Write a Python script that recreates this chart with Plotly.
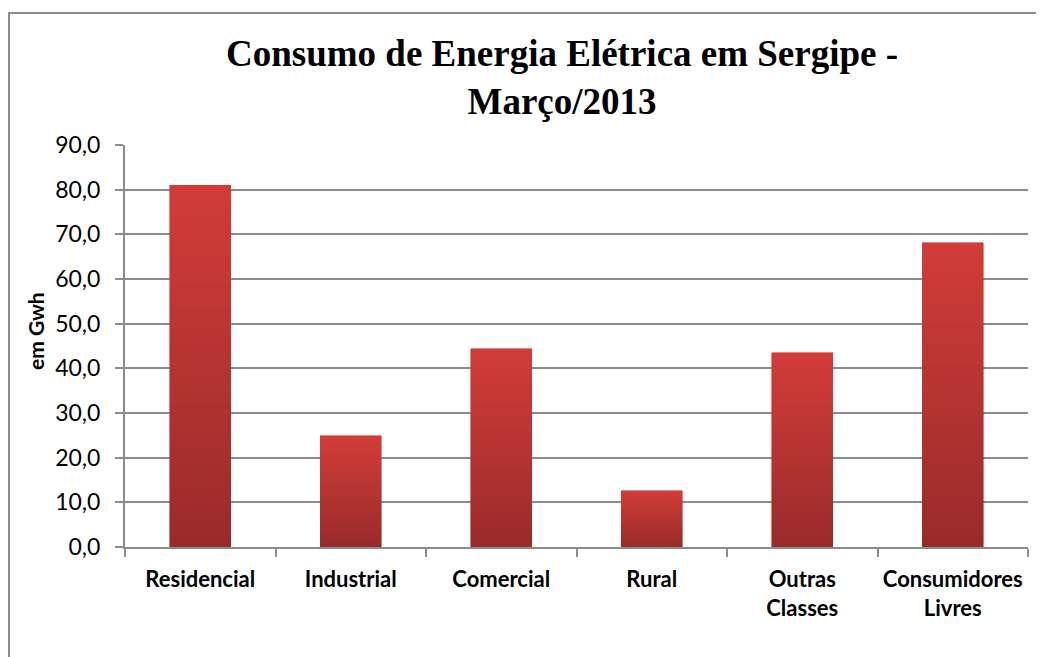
import plotly.graph_objects as go

categories = ["Residencial", "Industrial", "Comercial", "Rural", "Outras<br>Classes", "Consumidores<br>Livres"]
values = [81.0, 24.9, 44.4, 12.6, 43.5, 68.1]
y_ticks = [0, 10, 20, 30, 40, 50, 60, 70, 80, 90]

# Vertical gradient per bar (dark at bottom, light at top), built by stacking
# equal fractions of each bar's own value.
N_STEPS = 30
bottom_rgb = (154, 43, 42)
top_rgb = (209, 60, 56)

fig = go.Figure()
for i in range(N_STEPS):
    t = i / (N_STEPS - 1)
    c = tuple(round(b + (tp - b) * t) for b, tp in zip(bottom_rgb, top_rgb))
    fig.add_trace(go.Bar(
        x=categories,
        y=[v / N_STEPS for v in values],
        customdata=values,
        marker=dict(color="rgb(%d,%d,%d)" % c, line=dict(width=0.6, color="rgb(%d,%d,%d)" % c)),
        width=0.405,
        hovertemplate="%{x}: %{customdata:.1f}<extra></extra>",
        hoverinfo="skip" if i else None,
    ))

# page body has an 8px margin; place the plot area at screen 125..1028 x 145..547
W, H = 1044, 657
L, R, T, B = 117, 24, 137, 118
pw, ph = W - L - R, H - T - B
OFF = 8

def px(sx):
    return (sx - OFF - L) / pw

def py(sy):
    return (H - B - (sy - OFF)) / ph

fig.update_layout(
    width=W, height=H,
    barmode="stack",
    margin=dict(l=L, r=R, t=T, b=B),
    paper_bgcolor="white", plot_bgcolor="white",
    separators=", ",
    showlegend=False,
    font=dict(family="Lato, Open Sans, sans-serif", color="black"),
    xaxis=dict(
        type="category",
        showline=True, linecolor="#8c8c8c", linewidth=2,
        ticks="outside", tickson="boundaries", ticklen=8, tickcolor="#8c8c8c", tickwidth=2,
        tickfont=dict(size=22, family="Lato, sans-serif", color="black", weight="bold"),
        showgrid=False,
        ticklabelstandoff=12,
    ),
    yaxis=dict(
        range=[0, 90], tickvals=y_ticks, tickformat=".1f",
        showline=True, linecolor="#8c8c8c", linewidth=2,
        ticks="outside", ticklen=8, tickcolor="#8c8c8c", tickwidth=2,
        showgrid=True, gridcolor="#8c8c8c", gridwidth=2,
        zeroline=False,
        tickfont=dict(size=23, family="Lato, sans-serif", color="black"),
        ticklabelstandoff=10,
    ),
)

# y-axis title
fig.add_annotation(
    text="<b>em Gwh</b>", textangle=-90,
    xref="paper", yref="paper", x=px(35), y=py(331),
    xanchor="center", yanchor="middle", showarrow=False,
    font=dict(size=21, family="Lato, sans-serif", color="black"),
)

# title
fig.add_annotation(
    text="Consumo de Energia Elétrica em Sergipe -<br>Março/2013",
    xref="paper", yref="paper",
    x=px(562), y=py(78),
    xanchor="center", yanchor="middle",
    showarrow=False,
    font=dict(family="Liberation Serif, Times New Roman, serif", size=37, color="black", weight="bold"),
    align="center",
)

# outer chart border
fig.add_shape(
    type="rect", xref="paper", yref="paper",
    x0=px(9), x1=px(W + 30),
    y0=py(H + 30), y1=py(13),
    line=dict(color="#8c8c8c", width=2), fillcolor="rgba(0,0,0,0)",
    layer="below",
)

fig.write_html("out.html")
